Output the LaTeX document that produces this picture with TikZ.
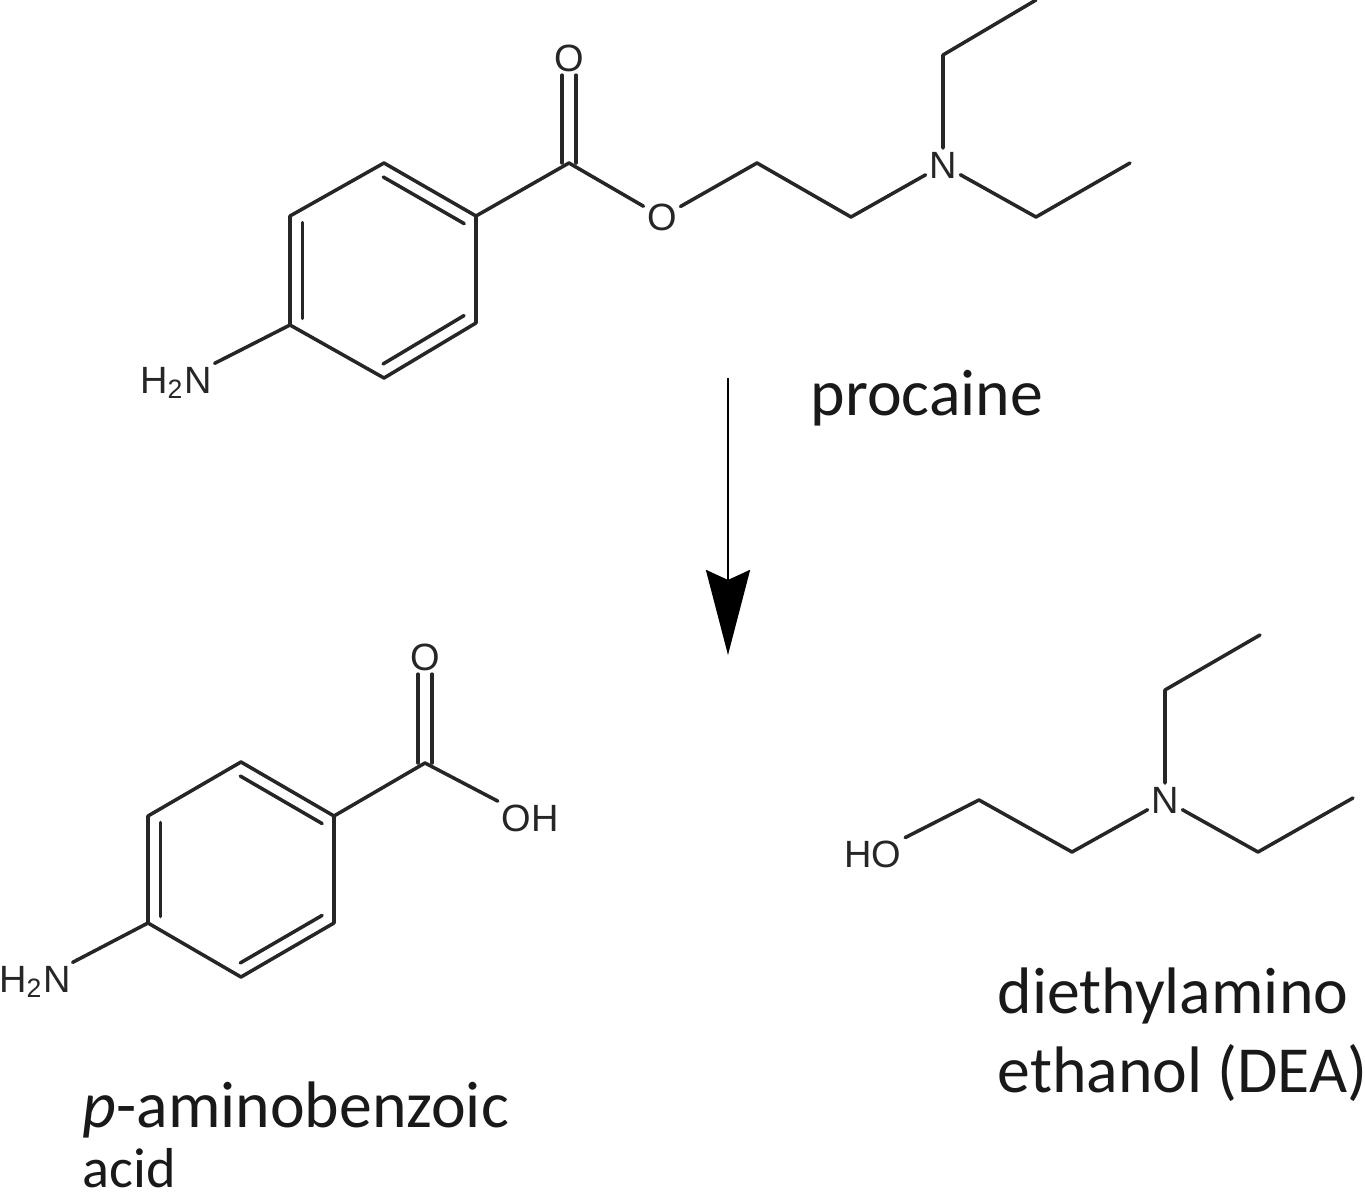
\documentclass[tikz,border=0pt]{standalone}
\usepackage{fontspec}
\setmainfont{Carlito}
\newfontfamily\atomfont{Liberation Sans}
\usetikzlibrary{arrows.meta,calc}
\tikzset{
	bond/.style={line width=1pt,black!85,line cap=round,line join=round},
	atom/.style={inner sep=.03cm,black!85,font=\atomfont\fontsize{10.8pt}{13pt}\selectfont},
	caption/.style={anchor=base west,inner sep=0pt,black!90,font=\fontsize{18.7pt}{22pt}\selectfont},
}
\newcommand{\innerbond}[2]{\draw[bond] ($(#1)!.06!(#2)!.125cm!-90:(#2)$) -- ($(#2)!.06!(#1)!.125cm!90:(#1)$);}

\begin{document}
\begin{tikzpicture}[>={Stealth[length=.85cm,width=.44cm,inset=.1cm]},x=.01cm,y=-.01cm]
	\useasboundingbox (0,0) rectangle (1365,1200);
	\clip (0,0) rectangle (1365,1200);

	% procaine
	\coordinate (pt) at (384,163);
	\coordinate (ptr) at (476,216);
	\coordinate (pbr) at (476,323);
	\coordinate (pb) at (384,378);
	\coordinate (pbl) at (290,325);
	\coordinate (ptl) at (290,216);
	\coordinate (pco) at (569,163);
	\coordinate (pa) at (757,163);
	\coordinate (pc) at (851,217);
	\coordinate (pu) at (943,55);
	\coordinate (pv) at (1036,0);
	\coordinate (pr) at (1036,217);
	\coordinate (ps) at (1130,163);
	\node[atom] (pnh) at (176,383) {H\textsubscript{2}N};
	\node[atom] (pod) at (569,58) {O};
	\node[atom] (poe) at (662,217) {O};
	\node[atom] (pn) at (943,165) {N};

	\draw[bond] (pt) -- (ptr) -- (pbr) -- (pb) -- (pbl) -- (ptl) -- cycle;
	\innerbond{pt}{ptr}
	\innerbond{pbr}{pb}
	\innerbond{pbl}{ptl}
	\draw[bond] (pbl) -- (pnh);
	\draw[bond] (ptr) -- (pco) -- (poe);
	\draw[bond] ([xshift=-.07cm]pco) -- ([xshift=-.07cm]pod.south);
	\draw[bond] ([xshift=.07cm]pco) -- ([xshift=.07cm]pod.south);
	\draw[bond] (poe) -- (pa) -- (pc) -- (pn);
	\draw[bond] (pn) -- (pu) -- (pv);
	\draw[bond] (pn) -- (pr) -- (ps);
	\node[caption] (plabel) at (810,416) {procaine};

	% arrow
	\coordinate (top) at (728,378);
	\coordinate (tip) at (728,655);
	\draw[->,line width=.8pt,black] (top) -- (tip);

	% p-aminobenzoic acid
	\coordinate (at) at (241,762);
	\coordinate (atr) at (334,816);
	\coordinate (abr) at (334,923);
	\coordinate (ab) at (241,977);
	\coordinate (abl) at (148,923);
	\coordinate (atl) at (148,816);
	\coordinate (aco) at (425,763);
	\node[atom] (anh) at (35,982) {H\textsubscript{2}N};
	\node[atom] (aod) at (425,657) {O};
	\node[atom] (aoh) at (530,818) {OH};

	\draw[bond] (at) -- (atr) -- (abr) -- (ab) -- (abl) -- (atl) -- cycle;
	\innerbond{at}{atr}
	\innerbond{abr}{ab}
	\innerbond{abl}{atl}
	\draw[bond] (abl) -- (anh);
	\draw[bond] (atr) -- (aco) -- (aoh);
	\draw[bond] ([xshift=-.07cm]aco) -- ([xshift=-.07cm]aod.south);
	\draw[bond] ([xshift=.07cm]aco) -- ([xshift=.07cm]aod.south);
	\node[caption] (alabel) at (82,1127) {\textit{p}-aminobenzoic};
	\node[caption,font=\fontsize{16pt}{19pt}\selectfont] (aacid) at (82,1187) {acid};

	% diethylamino ethanol
	\coordinate (da) at (979,800);
	\coordinate (dc) at (1072,852);
	\coordinate (du) at (1165,690);
	\coordinate (dv) at (1260,635);
	\coordinate (dr) at (1258,852);
	\coordinate (ds) at (1353,798);
	\node[atom] (doh) at (873,854) {HO};
	\node[atom] (dn) at (1165,800) {N};

	\draw[bond] (doh) -- (da) -- (dc) -- (dn);
	\draw[bond] (dn) -- (du) -- (dv);
	\draw[bond] (dn) -- (dr) -- (ds);
	\node[caption] (dlabel) at (997,1013) {diethylamino};
	\node[caption] (dlabelb) at (997,1093) {ethanol (DEA)};
\end{tikzpicture}
\end{document}
